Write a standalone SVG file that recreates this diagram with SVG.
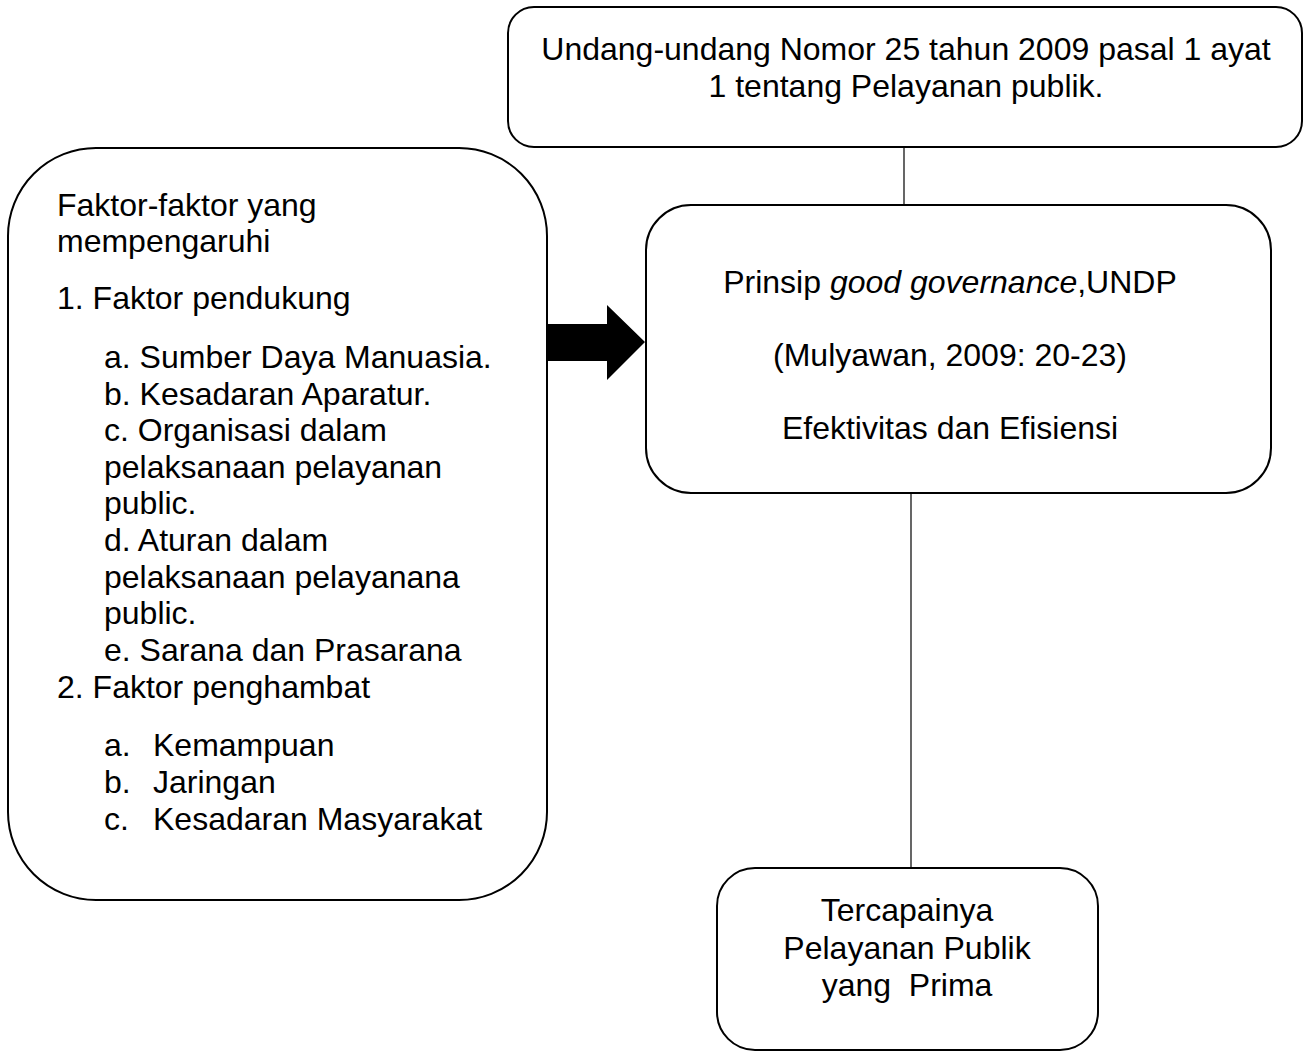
<svg xmlns="http://www.w3.org/2000/svg" width="1306" height="1052" viewBox="0 0 1306 1052">
<style>
.box{fill:#fff;stroke:#000;stroke-width:2}
.conn{stroke:#000;stroke-width:1.2;fill:none}
text{font-family:"Liberation Sans",Arial,sans-serif;font-size:32px;fill:#000}
.c{text-anchor:middle}
</style>
<rect width="1306" height="1052" fill="#fff"/>
<g id="connectors">
<line class="conn" x1="904" y1="147" x2="904" y2="205"/>
<line class="conn" x1="911" y1="493" x2="911" y2="868"/>
<polygon points="547,324 607,324 607,305 645,342 607,380 607,361 547,361" fill="#000"/>
</g>
<g id="node-uu">
<rect class="box" x="508" y="7" width="794" height="140" rx="26" ry="26"/>
<text class="c" x="906" y="60">Undang-undang Nomor 25 tahun 2009 pasal 1 ayat</text>
<text class="c" x="906" y="97">1 tentang Pelayanan publik.</text>
</g>
<g id="node-faktor">
<rect class="box" x="8" y="148" width="539" height="752" rx="88" ry="88"/>
<text x="57" y="216">Faktor-faktor yang</text>
<text x="57" y="252">mempengaruhi</text>
<text x="57" y="309">1. Faktor pendukung</text>
<text x="104" y="368">a. Sumber Daya Manuasia.</text>
<text x="104" y="405">b. Kesadaran Aparatur.</text>
<text x="104" y="441">c. Organisasi dalam</text>
<text x="104" y="478">pelaksanaan pelayanan</text>
<text x="104" y="514">public.</text>
<text x="104" y="551">d. Aturan dalam</text>
<text x="104" y="588">pelaksanaan pelayanana</text>
<text x="104" y="624">public.</text>
<text x="104" y="661">e. Sarana dan Prasarana</text>
<text x="57" y="698">2. Faktor penghambat</text>
<text x="104" y="756">a.</text><text x="153" y="756">Kemampuan</text>
<text x="104" y="793">b.</text><text x="153" y="793">Jaringan</text>
<text x="104" y="830">c.</text><text x="153" y="830">Kesadaran Masyarakat</text>
</g>
<g id="node-prinsip">
<rect class="box" x="646" y="205" width="625" height="288" rx="45" ry="45"/>
<text class="c" x="950" y="293">Prinsip <tspan font-style="italic">good governance</tspan>,UNDP</text>
<text class="c" x="950" y="366">(Mulyawan, 2009: 20-23)</text>
<text class="c" x="950" y="439">Efektivitas dan Efisiensi</text>
</g>
<g id="node-hasil">
<rect class="box" x="717" y="868" width="381" height="182" rx="38" ry="38"/>
<text class="c" x="907" y="921">Tercapainya</text>
<text class="c" x="907" y="959">Pelayanan Publik</text>
<text class="c" x="907" y="996" xml:space="preserve">yang  Prima</text>
</g>
</svg>
